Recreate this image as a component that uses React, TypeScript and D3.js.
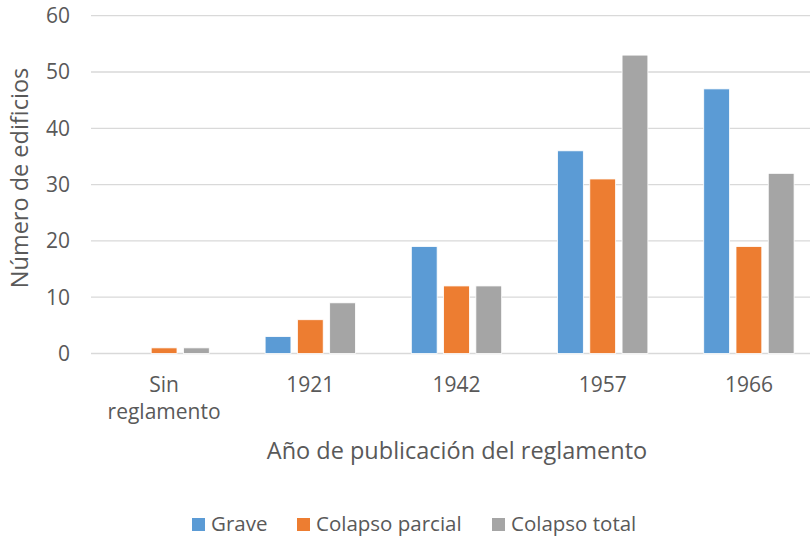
import React, { useEffect, useRef } from 'react';
import * as d3 from 'd3';

const categories = ['Sin reglamento', '1921', '1942', '1957', '1966'];
const seriesNames = ['Grave', 'Colapso parcial', 'Colapso total'];
const grave = [0, 3, 19, 36, 47];
const colapsoParcial = [1, 6, 12, 31, 19];
const colapsoTotal = [1, 9, 12, 53, 32];
const yTicks = [0, 10, 20, 30, 40, 50, 60];
const colors = ['#5B9BD5', '#ED7D31', '#A5A5A5'];

const WIDTH = 810;
const HEIGHT = 538;
const FONT = '"Open Sans", "Noto Sans", sans-serif';
const TEXT = '#595959';

const App: React.FC = () => {
  const svgRef = useRef<SVGSVGElement>(null);

  useEffect(() => {
    if (!svgRef.current) return;
    const svg = d3.select(svgRef.current);
    svg.selectAll('*').remove();

    const values = [grave, colapsoParcial, colapsoTotal];
    const left = 91;
    const right = 822; // plot area runs past the right edge of the image
    const top = 15.7;
    const bottom = 353.5;

    const x0 = d3.scaleBand<string>()
      .domain(categories)
      .range([left, right])
      .paddingInner(0.382)
      .paddingOuter(0.191);

    const x1 = d3.scaleBand<string>()
      .domain(seriesNames)
      .range([0, x0.bandwidth()])
      .paddingInner(0.2);

    const y = d3.scaleLinear().domain([0, 60]).range([bottom, top]);

    // gridlines
    svg.append('g')
      .selectAll('line')
      .data(yTicks)
      .enter()
      .append('line')
      .attr('x1', left)
      .attr('x2', WIDTH)
      .attr('y1', d => y(d))
      .attr('y2', d => y(d))
      .attr('stroke', '#D9D9D9')
      .attr('stroke-width', 1.3);

    // y tick labels
    svg.append('g')
      .selectAll('text')
      .data(yTicks)
      .enter()
      .append('text')
      .attr('x', 70)
      .attr('y', d => y(d))
      .attr('dy', '0.35em')
      .attr('text-anchor', 'end')
      .attr('fill', TEXT)
      .style('font-family', FONT)
      .style('font-size', '21px')
      .text(d => d);

    // bars
    const groups = svg.append('g')
      .selectAll('g')
      .data(categories)
      .enter()
      .append('g')
      .attr('transform', d => `translate(${x0(d)},0)`);

    groups.selectAll('rect')
      .data((_, i) => seriesNames.map((name, s) => ({ name, s, v: values[s][i] })))
      .enter()
      .append('rect')
      .attr('x', d => x1(d.name) as number)
      .attr('width', x1.bandwidth())
      .attr('y', d => y(d.v))
      .attr('height', d => bottom - y(d.v))
      .attr('fill', d => colors[d.s])
      .attr('stroke', d => (d.v > 0 ? '#ffffff' : 'none'))
      .attr('stroke-width', 0.8);

    // category labels
    const catLabels = svg.append('g')
      .selectAll('text')
      .data(categories)
      .enter()
      .append('text')
      .attr('x', d => (x0(d) as number) + x0.bandwidth() / 2)
      .attr('y', 392)
      .attr('text-anchor', 'middle')
      .attr('fill', TEXT)
      .style('font-family', FONT)
      .style('font-size', '21px');

    catLabels.each(function (d) {
      const words = d === 'Sin reglamento' ? ['Sin', 'reglamento'] : [d];
      const t = d3.select(this);
      words.forEach((w, i) => {
        t.append('tspan')
          .attr('x', (x0(d) as number) + x0.bandwidth() / 2)
          .attr('dy', i === 0 ? 0 : 27)
          .text(w);
      });
    });

    // axis titles
    svg.append('text')
      .attr('x', 457)
      .attr('y', 459)
      .attr('text-anchor', 'middle')
      .attr('fill', TEXT)
      .style('font-family', FONT)
      .style('font-size', '23.5px')
      .text('Año de publicación del reglamento');

    svg.append('text')
      .attr('transform', `translate(28,178) rotate(-90)`)
      .attr('text-anchor', 'middle')
      .attr('fill', TEXT)
      .style('font-family', FONT)
      .style('font-size', '23.5px')
      .text('Número de edificios');

    // legend
    const legendX = [192, 297, 492];
    const legend = svg.append('g');
    seriesNames.forEach((name, i) => {
      const row = legend.append('g').attr('transform', `translate(${legendX[i]},518)`);
      row.append('rect')
        .attr('width', 13)
        .attr('height', 13)
        .attr('fill', colors[i]);
      row.append('text')
        .attr('x', 19)
        .attr('y', 13)
        .attr('fill', TEXT)
        .style('font-family', FONT)
        .style('font-size', '20.5px')
        .text(name);
    });
  }, []);

  return (
    <div style={{ position: 'absolute', left: 0, top: 0 }}>
      <svg ref={svgRef} width={WIDTH} height={HEIGHT} style={{ display: 'block', background: '#fff' }} />
    </div>
  );
};

export default App;
